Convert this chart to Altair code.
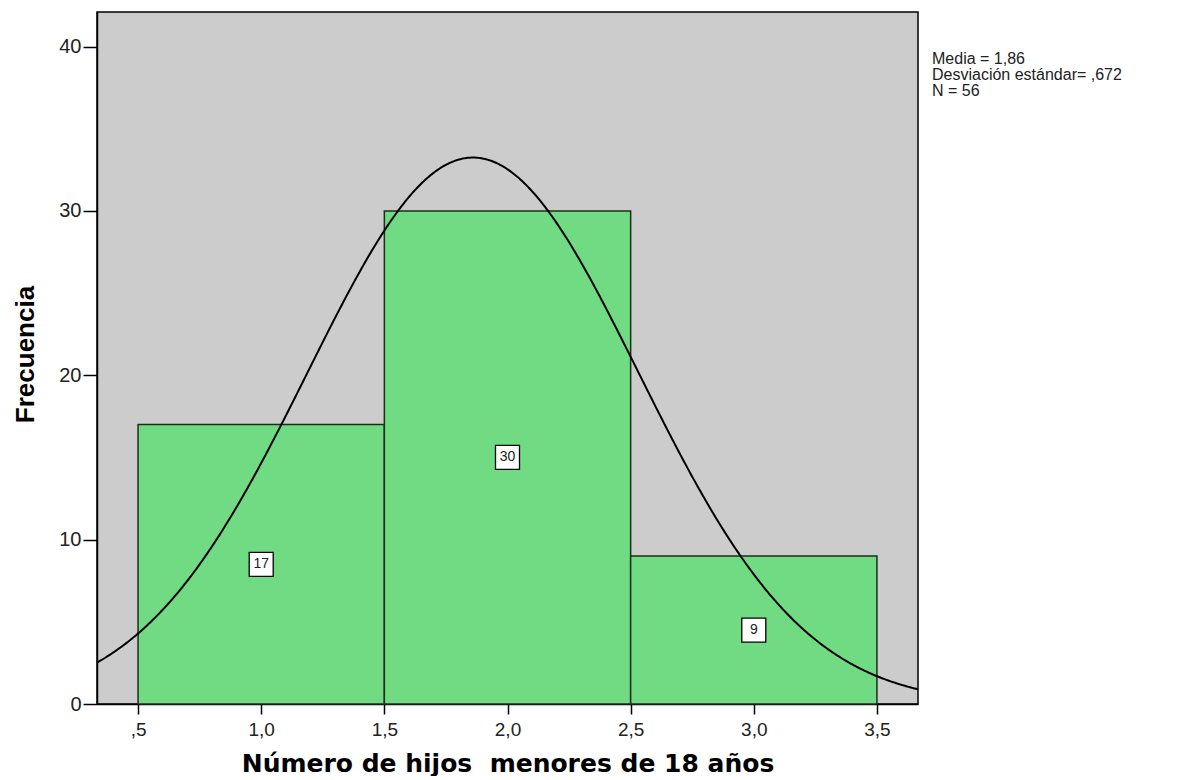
import altair as alt
import pandas as pd

# ---- data ----
bin_start = [0.5, 1.5, 2.5]
bin_end = [1.5, 2.5, 3.5]
counts = [17, 30, 9]
bin_mid = [1.0, 2.0, 3.0]

mean = 1.86
sd = 0.672
n_total = 56
bin_width = 1.0

x_tick_values = [0.5, 1.0, 1.5, 2.0, 2.5, 3.0, 3.5]
x_tick_labels = [",5", "1,0", "1,5", "2,0", "2,5", "3,0", "3,5"]
y_tick_values = [0, 10, 20, 30, 40]

legend_lines = ["Media = 1,86", "Desviación estándar= ,672", "N = 56"]

x_title = "Número de hijos\u00a0 menores de 18 años"
y_title = "Frecuencia"

# ---- tables ----
bars = pd.DataFrame({"start": bin_start, "end": bin_end, "count": counts,
                     "mid": bin_mid})
bars["half"] = bars["count"] / 2.0
legend_df = pd.DataFrame({"t": [legend_lines]})

W, H = 821, 692
x_dom = [0.3333, 3.6667]
y_dom = [0, 42.1]

label_expr = " : ".join(
    [f"datum.value == {v} ? '{l}'" for v, l in zip(x_tick_values, x_tick_labels)]
) + " : ''"

xs = alt.Scale(domain=x_dom, nice=False, zero=False)
ys = alt.Scale(domain=y_dom, nice=False)

x_axis = alt.Axis(values=x_tick_values, labelExpr=label_expr, grid=False,
                  title=x_title, tickSize=10, labelPadding=6,
                  labelFontSize=19, labelFont="Liberation Sans", labelColor="#222",
                  titleFont="DejaVu Sans", titleFontSize=25, titleFontWeight="bold",
                  titleColor="black", titleBaseline="alphabetic", titleY=67,
                  domainColor="black", domainWidth=1.5, tickColor="black", tickWidth=1.5)
y_axis = alt.Axis(values=y_tick_values, grid=False, title=y_title,
                  tickSize=14, labelPadding=2,
                  labelFontSize=20, labelFont="Liberation Sans", labelColor="#222",
                  titleFont="Liberation Sans", titleFontSize=26, titleFontWeight="bold",
                  titleColor="black", titleBaseline="alphabetic", titleX=-64, titleY=342,
                  domainColor="black", domainWidth=1.5, tickColor="black", tickWidth=1.5)

base = alt.Chart(bars)

bar_layer = base.mark_rect(fill="#70db83", stroke="#1a2e1a", strokeWidth=1.5).encode(
    x=alt.X("start:Q", scale=xs, axis=x_axis),
    x2="end:Q",
    y=alt.Y("count:Q", scale=ys, axis=y_axis),
    y2=alt.datum(0),
)

curve = alt.Chart(alt.sequence(0.3333, 3.67, 0.005, as_="xv")).transform_calculate(
    yv=f"{n_total}*{bin_width}/({sd}*sqrt(2*PI))*exp(-0.5*pow((datum.xv-{mean})/{sd},2))"
).mark_line(color="black", strokeWidth=2, clip=True).encode(
    x=alt.X("xv:Q", scale=xs),
    y=alt.Y("yv:Q", scale=ys),
)

boxes = base.mark_square(size=576, fill="white", stroke="black", strokeWidth=1.3,
                         opacity=1).encode(
    x=alt.X("mid:Q", scale=xs),
    y=alt.Y("half:Q", scale=ys),
)

box_text = base.mark_text(font="Liberation Sans", fontSize=14, color="#222",
                          baseline="middle", align="center").encode(
    x=alt.X("mid:Q", scale=xs),
    y=alt.Y("half:Q", scale=ys),
    text="count:Q",
)

legend = alt.Chart(legend_df).mark_text(
    font="Liberation Sans", fontSize=16, color="#222", align="left",
    baseline="alphabetic", lineHeight=16,
).encode(
    x=alt.value(835),
    y=alt.value(52),
    text="t",
)

chart = alt.layer(bar_layer, curve, boxes, box_text, legend).properties(
    width=W, height=H,
    autosize=alt.AutoSizeParams(type="none"),
    padding={"left": 89, "top": 4, "right": 268, "bottom": 72},
    background="white",
).configure_view(
    fill="#cccccc", stroke="black", strokeWidth=1.5,
)

chart.save("out.html", embed_options={"renderer": "svg", "actions": False})
